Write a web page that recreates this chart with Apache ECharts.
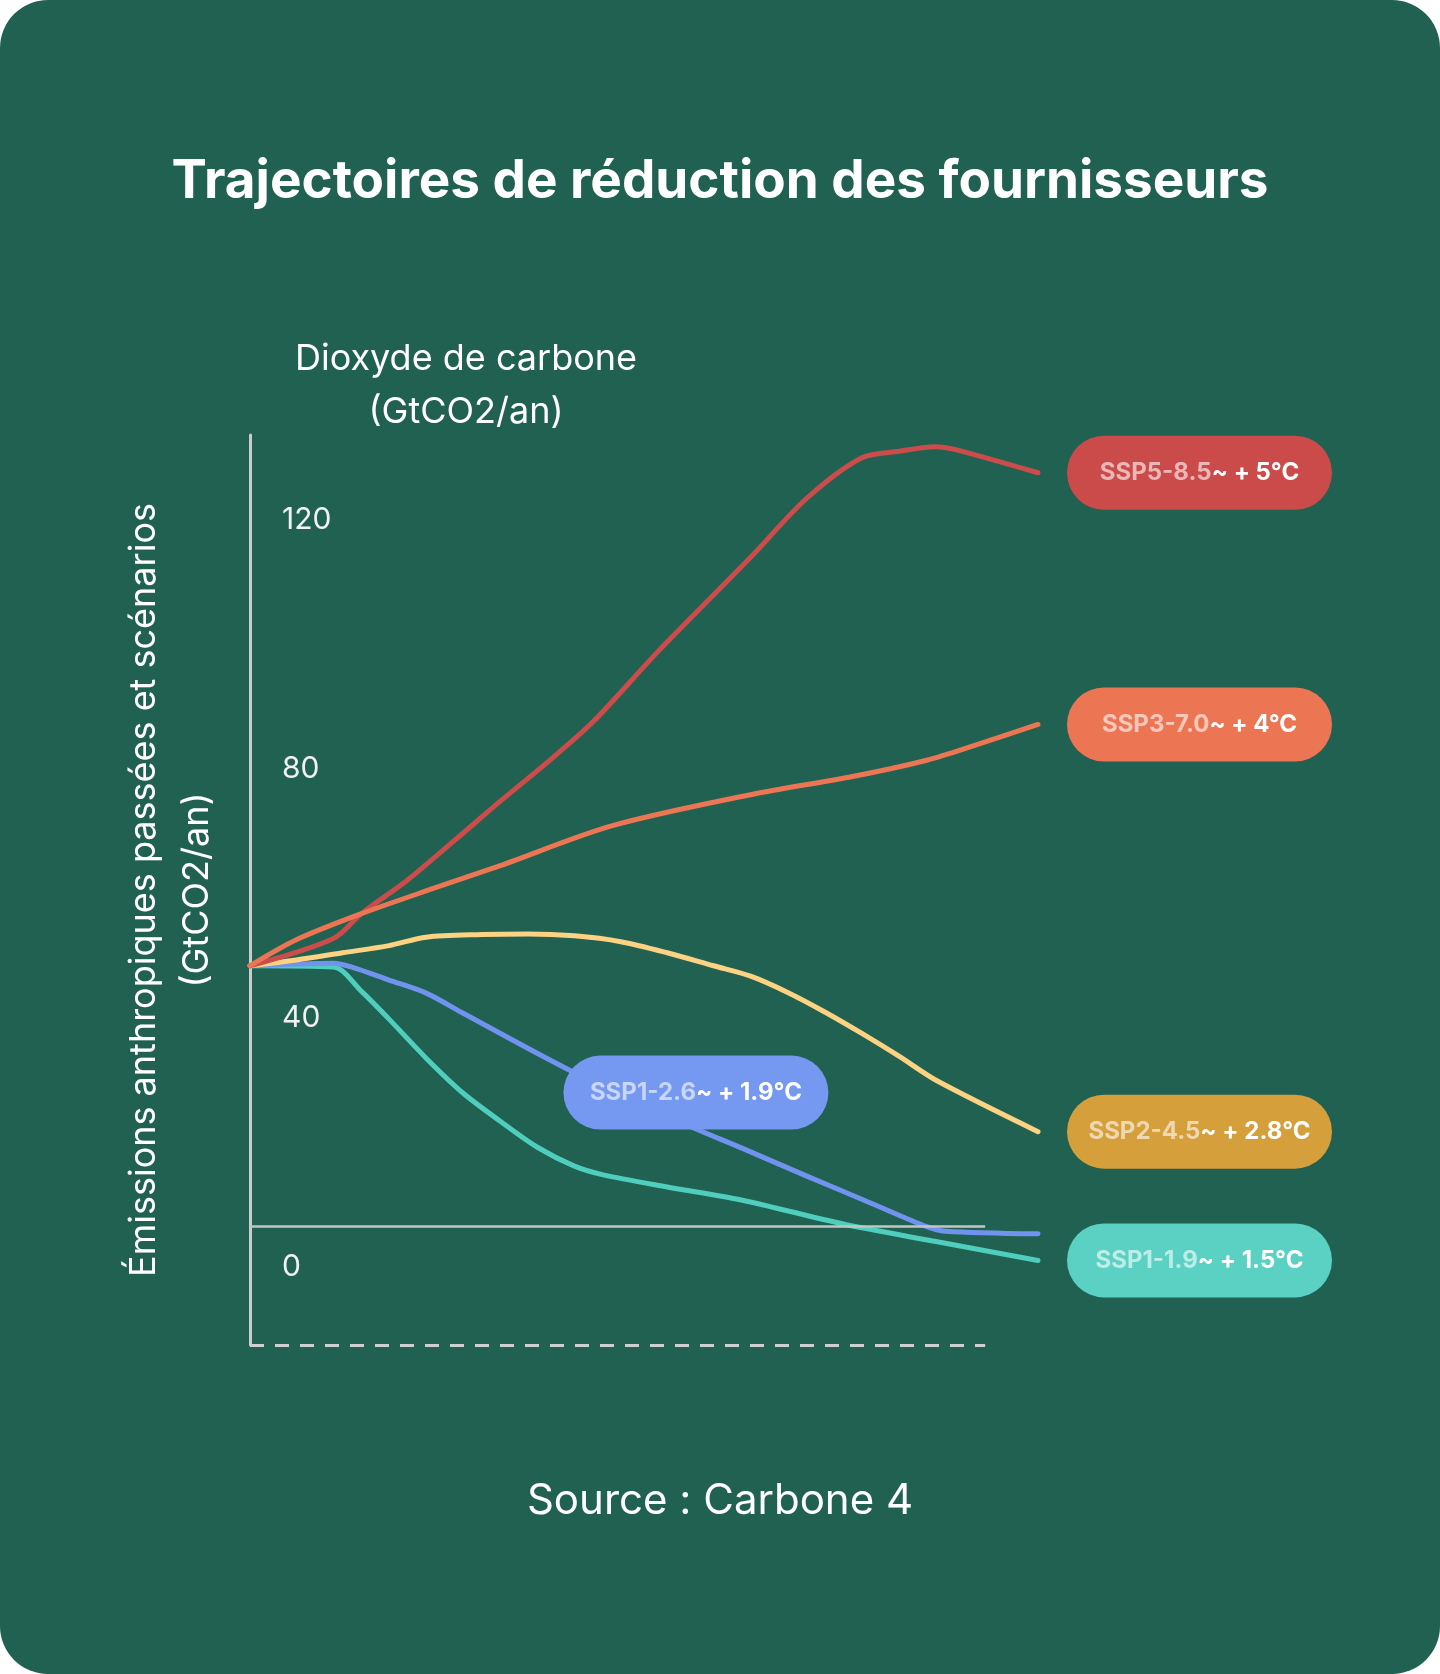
<!DOCTYPE html>
<html>
<head>
<meta charset="utf-8">
<script src="https://cdn.jsdelivr.net/npm/echarts@6/dist/echarts.min.js"></script>
<style>
  html, body { margin: 0; padding: 0; background: #ffffff; }
  #wrap { width: 1440px; height: 1674px; border-radius: 48px; overflow: hidden; }
  #chart { width: 1440px; height: 1674px; }
</style>
</head>
<body>
<div id="wrap"><div id="chart"></div></div>
<script>
// ---------- DATA ----------
const SCENARIOS = ['SSP5-8.5', 'SSP3-7.0', 'SSP2-4.5', 'SSP1-2.6', 'SSP1-1.9'];
const WARMING   = ['~ + 5°C', '~ + 4°C', '~ + 2.8°C', '~ + 1.9°C', '~ + 1.5°C'];

const YEARS_SSP585  = [2015, 2024, 2027, 2032, 2037, 2042, 2047, 2052, 2059, 2069, 2075, 2081, 2085, 2089, 2091, 2100];
const VALUES_SSP585 = [40, 44.2, 48.0, 53.2, 59.2, 65.3, 71.2, 77.5, 88.3, 102.8, 111.8, 118.1, 119.1, 119.8, 119.4, 115.8];

const YEARS_SSP370  = [2015, 2020, 2027, 2035, 2042, 2054, 2069, 2080, 2088, 2093, 2100];
const VALUES_SSP370 = [40, 44.0, 48.0, 52.0, 55.4, 61.5, 66.3, 69.1, 71.6, 73.8, 77.1];

const YEARS_SSP245  = [2015, 2020, 2025, 2030, 2034, 2040, 2045, 2050, 2055, 2060, 2065, 2069, 2073, 2077, 2081, 2085, 2089, 2100];
const VALUES_SSP245 = [40, 40.9, 42.0, 43.1, 44.4, 44.8, 44.9, 44.6, 43.7, 42.0, 40.0, 38.4, 35.9, 32.9, 29.6, 26.1, 22.4, 14.5];

const YEARS_SSP126  = [2015, 2024, 2026, 2030, 2034, 2038, 2049, 2062, 2068, 2075, 2082, 2088, 2090, 2100];
const VALUES_SSP126 = [40, 40.4, 39.8, 37.8, 35.8, 32.7, 24.3, 15.6, 12.0, 7.7, 3.5, -0.1, -0.8, -1.2];

const YEARS_SSP119  = [2015, 2024, 2027, 2030, 2034, 2038, 2042, 2046, 2050, 2053, 2060, 2068, 2079, 2089, 2100];
const VALUES_SSP119 = [40, 39.8, 36.1, 31.8, 25.8, 20.4, 16.1, 12.1, 9.2, 7.9, 6.0, 4.0, 0.3, -2.4, -5.3];

const Y_TICKS = [0, 40, 80, 120];

// axis extents (data units)
const X_MIN = 2015, X_MAX = 2100;
const Y_MIN = -18.3, Y_MAX = 121.6;           // data scale
const LABEL_Y_MIN = -12.5, LABEL_Y_MAX = 133.6; // tick-label scale
const REF_LINE_END = 2094.3;                  // end of zero / dashed reference lines
const BADGE_SSP126 = [2063.1, 20.5];          // badge anchor for SSP1-2.6

// ---------- STYLE ----------
const FONT = 'Inter';
const BG = '#216151';
const LINE_COLORS  = ['#cc4b4b', '#ec7653', '#fdd282', '#7193ef', '#4fcebe'];
const BADGE_COLORS = ['#cb4a4a', '#ec7654', '#d59f3c', '#7598f0', '#5bd1c3'];

function pairs(xs, ys) { return xs.map((x, i) => [x, ys[i]]); }

function badgeLabel(i) {
  return {
    formatter: '{a|' + SCENARIOS[i] + '}{b|' + WARMING[i] + '}',
    backgroundColor: BADGE_COLORS[i],
    borderRadius: 37,
    width: 265,
    padding: 0,
    rich: {
      a: { fontFamily: FONT, fontWeight: 700, fontSize: 24, lineHeight: 74, color: 'rgba(255,255,255,0.6)', align: 'center' },
      b: { fontFamily: FONT, fontWeight: 700, fontSize: 24, lineHeight: 74, color: '#ffffff', align: 'center' }
    }
  };
}

function lineSeries(i, data, z, endBadge) {
  const s = {
    type: 'line',
    name: SCENARIOS[i],
    data: data,
    showSymbol: false,
    symbol: 'none',
    smooth: 0.3,
    z: z,
    lineStyle: { color: LINE_COLORS[i], width: 5, cap: 'round', join: 'round' },
    emphasis: { disabled: true }
  };
  if (endBadge) {
    s.endLabel = Object.assign({ show: true, distance: 29 }, badgeLabel(i));
  }
  return s;
}

const series = [
  {
    type: 'line', data: [], z: 1, silent: true,
    markLine: {
      silent: true, symbol: 'none', animation: false,
      label: { show: false },
      data: [
        [{ coord: [X_MIN, 0], lineStyle: { color: '#c4c4c4', width: 2.5, type: 'solid' } }, { coord: [REF_LINE_END, 0] }],
        [{ coord: [X_MIN, Y_MIN], lineStyle: { color: '#cfcfcf', width: 3, type: [14, 11] } }, { coord: [REF_LINE_END, Y_MIN] }]
      ]
    }
  },
  lineSeries(4, pairs(YEARS_SSP119, VALUES_SSP119), 2, true),
  Object.assign(lineSeries(3, pairs(YEARS_SSP126, VALUES_SSP126), 3, false), {
    markPoint: {
      symbol: 'circle', symbolSize: 0, animation: false, silent: true,
      data: [{ coord: BADGE_SSP126 }],
      label: Object.assign({ show: true, position: 'inside' }, badgeLabel(3))
    }
  }),
  lineSeries(2, pairs(YEARS_SSP245, VALUES_SSP245), 4, true),
  lineSeries(0, pairs(YEARS_SSP585, VALUES_SSP585), 5, true),
  lineSeries(1, pairs(YEARS_SSP370, VALUES_SSP370), 6, true)
];

const chart = echarts.init(document.getElementById('chart'), null, { renderer: 'canvas' });
chart.setOption({
  animation: false,
  backgroundColor: BG,
  title: [
    {
      text: 'Trajectoires de réduction des fournisseurs',
      left: 'center', top: 150, padding: 0,
      textStyle: { fontFamily: FONT, fontWeight: 700, fontSize: 53, lineHeight: 64, color: '#ffffff' }
    },
    {
      text: 'Dioxyde de carbone\n(GtCO2/an)',
      left: 466, top: 333, padding: 0, textAlign: 'center',
      textStyle: { fontFamily: FONT, fontWeight: 400, fontSize: 36, lineHeight: 53, color: '#ffffff', align: 'center' }
    },
    {
      text: 'Source : Carbone 4',
      left: 'center', top: 1476, padding: 0,
      textStyle: { fontFamily: FONT, fontWeight: 400, fontSize: 42, lineHeight: 50, color: '#ffffff' }
    }
  ],
  grid: { left: 250, right: 402, top: 435, bottom: 329, containLabel: false },
  xAxis: { type: 'value', min: X_MIN, max: X_MAX, show: false },
  yAxis: [
    {
      type: 'value', min: Y_MIN, max: Y_MAX, position: 'left',
      axisLine: { show: true, lineStyle: { color: '#cccccc', width: 3 } },
      axisTick: { show: false }, axisLabel: { show: false }, splitLine: { show: false },
      name: 'Émissions anthropiques passées et scénarios\n(GtCO2/an)',
      nameLocation: 'middle', nameRotate: 90, nameGap: 26,
      nameTextStyle: { fontFamily: FONT, fontSize: 36, lineHeight: 53, color: '#ffffff', align: 'center' }
    },
    {
      type: 'value', min: LABEL_Y_MIN, max: LABEL_Y_MAX, position: 'left',
      axisLine: { show: false }, axisTick: { show: false }, splitLine: { show: false },
      axisLabel: {
        show: true, inside: true, margin: 32, customValues: Y_TICKS,
        fontFamily: FONT, fontSize: 30, color: '#f2f2f2'
      }
    }
  ],
  series: series
});
</script>
</body>
</html>
